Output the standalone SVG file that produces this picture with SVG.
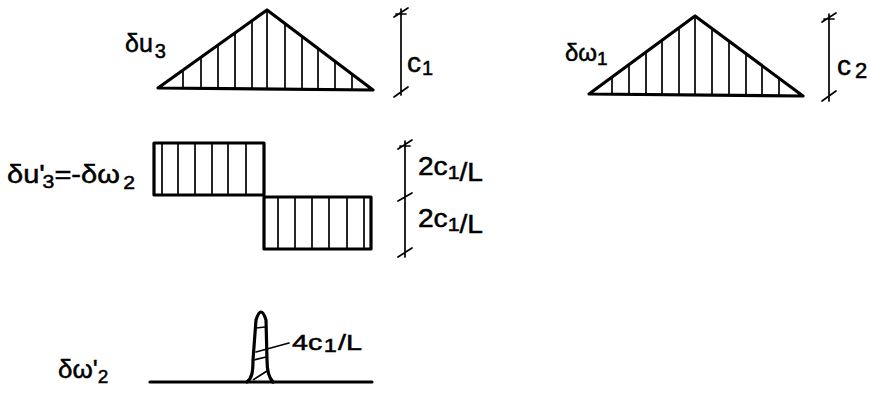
<svg xmlns="http://www.w3.org/2000/svg" width="870" height="397" viewBox="0 0 870 397">
<style>
.bg{fill:#ffffff}
.out{fill:none;stroke:#000;stroke-width:3.2;stroke-linejoin:round;stroke-linecap:round}
.hat{fill:none;stroke:#000;stroke-width:1.7}
.dim{fill:none;stroke:#000;stroke-width:1.7;stroke-linecap:round}
.t{font-family:"Liberation Sans","DejaVu Sans",sans-serif;fill:#000;stroke:#000;stroke-width:0.5}
</style>
<rect class="bg" x="0" y="0" width="870" height="397"/>

<g id="du3">
  <polygon class="out" points="158,88 267,10 373,90"/>
  <path class="hat" d="M183,70.1V88.2M201,57.2V88.4M218,45.1V88.6M235,32.9V88.7M252,20.7V88.9M267,10V89M285,23.6V89.2M302,36.4V89.3M318,48.5V89.5M335,61.3V89.6M352,74.2V89.8"/>
  <text class="t" x="125" y="52" font-size="25">δu<tspan font-size="20" dx="2" dy="6">3</tspan></text>
</g>

<g id="dim-c1">
  <path class="dim" d="M401,9V95M394,17L408,8M396,14H406M394,97L408,87"/>
  <text class="t" x="407" y="72" font-size="28">c<tspan font-size="20" dx="1" dy="3">1</tspan></text>
</g>

<g id="dw1">
  <polygon class="out" points="589,94 695,16 803,96"/>
  <path class="hat" d="M612,77.1V94.2M629,64.6V94.4M646,52.1V94.5M662,40.3V94.7M679,27.8V94.8M695,16V95M712,28.6V95.1M729,41.2V95.3M746,53.8V95.4M762,65.6V95.6M779,78.2V95.8"/>
  <text class="t" x="565" y="61" font-size="24">δω<tspan font-size="19" dy="4">1</tspan></text>
</g>

<g id="dim-c2">
  <path class="dim" d="M829,14V101M822,22L836,13M824,19H834M822,101L836,91"/>
  <text class="t" x="837" y="75" font-size="28">c<tspan font-size="22" dx="4" dy="3">2</tspan></text>
</g>

<g id="du3p">
  <rect class="out" x="154" y="143" width="110" height="52"/>
  <rect class="out" x="264" y="197" width="107" height="52"/>
  <path class="hat" d="M162,143V195M178,143V195M195,143V195M212,143V195M228,143V195M246,143V195M278,197V249M295,197V249M312,197V249M329,197V249M347,197V249M364,197V249"/>
  <text class="t" x="7" y="183" font-size="26" textLength="128" lengthAdjust="spacingAndGlyphs">δu'<tspan font-size="19" dx="-2" dy="5">3</tspan><tspan dy="-5">=-δω</tspan><tspan font-size="19" dx="3" dy="6">2</tspan></text>
</g>

<g id="dim-2c1L">
  <path class="dim" d="M405,141V257M398,149L412,140M400,146H410M398,201L412,193M398,257L412,248"/>
  <text class="t" x="418" y="175" font-size="25" textLength="65" lengthAdjust="spacingAndGlyphs">2c<tspan font-size="19" dy="4">1</tspan><tspan dy="2">/L</tspan></text>
  <text class="t" x="418" y="227" font-size="25" textLength="65" lengthAdjust="spacingAndGlyphs">2c<tspan font-size="19" dy="4">1</tspan><tspan dy="2">/L</tspan></text>
</g>

<g id="dw2p">
  <line class="out" x1="150" y1="382" x2="372" y2="382"/>
  <path class="out" d="M247,382C252,378 253,372 253,360L256,320Q261,304 266,320L267,360C267,372 269,378 273,382"/>
  <path class="hat" d="M256,328L265,327M253,380L267,371M254,360L266,357"/>
  <line class="dim" x1="256" y1="352" x2="289" y2="343"/>
  <text class="t" x="292" y="350" font-size="22" textLength="70" lengthAdjust="spacingAndGlyphs">4c<tspan font-size="18" dx="1" dy="2">1</tspan><tspan dx="1" dy="-2">/L</tspan></text>
  <text class="t" x="58" y="378" font-size="26">δω'<tspan font-size="19" dx="0" dy="5">2</tspan></text>
</g>
</svg>
